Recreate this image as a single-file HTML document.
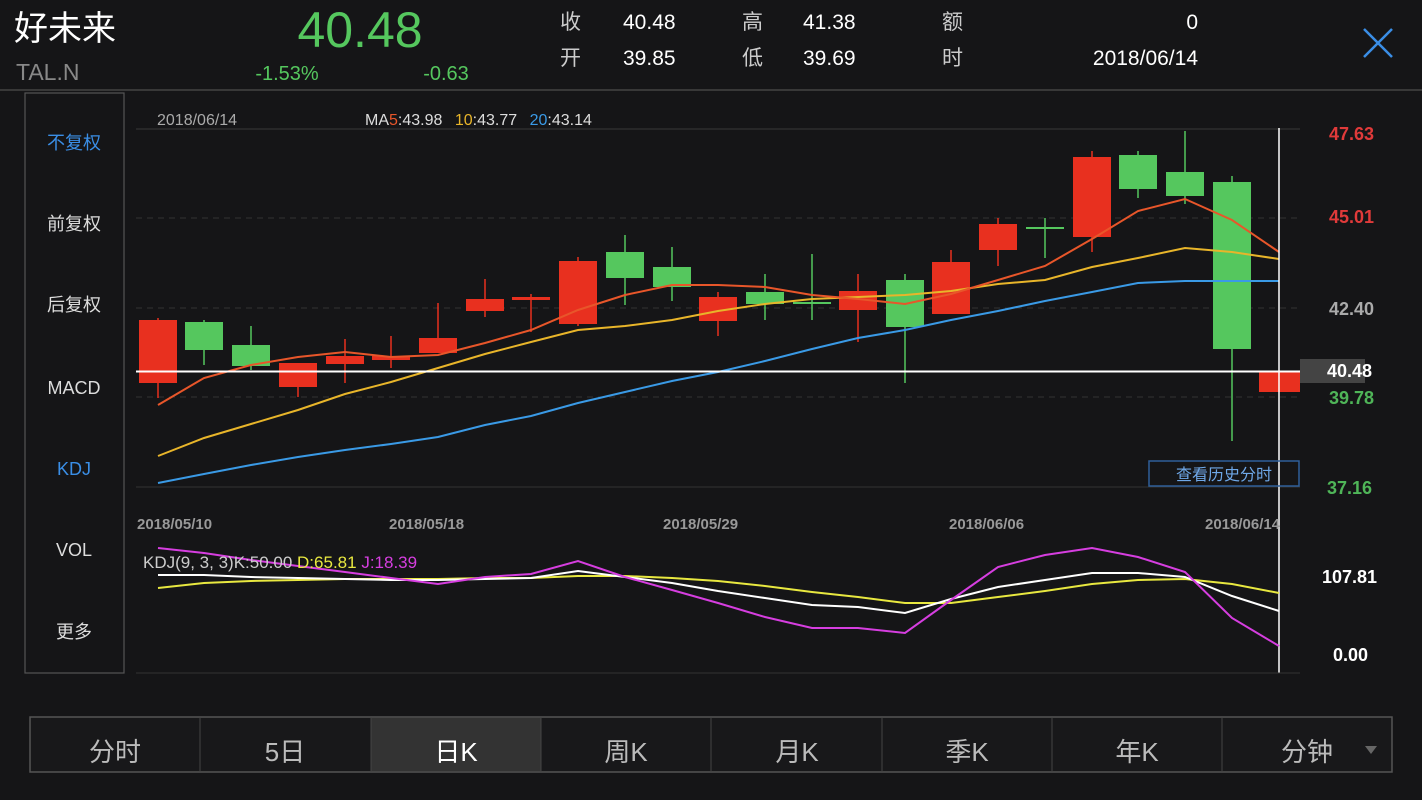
<!DOCTYPE html>
<html><head><meta charset="utf-8"><style>
body{margin:0;background:#151517;width:1422px;height:800px;overflow:hidden;font-family:"Liberation Sans","Noto Sans CJK SC",sans-serif;}
</style></head><body>
<svg width="1422" height="800" xmlns="http://www.w3.org/2000/svg" style="position:absolute;left:0;top:0;font-family:'Liberation Sans','Noto Sans CJK SC',sans-serif">
<rect width="1422" height="800" fill="#151517"/>
<!-- header -->
<text x="14" y="40" font-size="34" fill="#fff">好未来</text>
<text x="16" y="80" font-size="23" fill="#888">TAL.N</text>
<text x="360" y="47" font-size="50" fill="#55c75e" text-anchor="middle">40.48</text>
<text x="287" y="80" font-size="20" fill="#55c75e" text-anchor="middle">-1.53%</text>
<text x="446" y="80" font-size="20" fill="#55c75e" text-anchor="middle">-0.63</text>
<g font-size="21" fill="#ccc">
<text x="560" y="29">收</text><text x="560" y="65">开</text>
<text x="623" y="29" fill="#fff">40.48</text><text x="623" y="65" fill="#fff">39.85</text>
<text x="742" y="29">高</text><text x="742" y="65">低</text>
<text x="803" y="29" fill="#fff">41.38</text><text x="803" y="65" fill="#fff">39.69</text>
<text x="942" y="29">额</text><text x="942" y="65">时</text>
<text x="1198" y="29" fill="#fff" text-anchor="end">0</text><text x="1198" y="65" fill="#fff" text-anchor="end">2018/06/14</text>
</g>
<path d="M1364 29 L1392 57 M1392 29 L1364 57" stroke="#3a8ee6" stroke-width="2.5"/>
<line x1="0" y1="90" x2="1422" y2="90" stroke="#444" stroke-width="1.5"/>
<!-- left panel -->
<rect x="25" y="93" width="99" height="580" fill="none" stroke="#555" stroke-width="1.2"/>
<g font-size="18" fill="#ddd" text-anchor="middle">
<text x="74" y="149" fill="#3a8ee6">不复权</text>
<text x="74" y="230">前复权</text>
<text x="74" y="311">后复权</text>
<text x="74" y="394">MACD</text>
<text x="74" y="475" fill="#3a8ee6">KDJ</text>
<text x="74" y="556">VOL</text>
<text x="74" y="638">更多</text>
</g>
<!-- chart labels -->
<text x="157" y="125" font-size="16" fill="#aaa">2018/06/14</text>
<text x="365" y="125" font-size="16" fill="#ddd">MA<tspan fill="#e8562a">5</tspan>:43.98 <tspan dx="8" fill="#e8b52a">10</tspan>:43.77 <tspan dx="8" fill="#3a9ae6">20</tspan>:43.14</text>
<line x1="136" y1="129" x2="1300" y2="129" stroke="#333" stroke-width="1.2"/>
<g stroke="#333" stroke-width="1" stroke-dasharray="6,5">
<line x1="136" y1="218" x2="1300" y2="218"/><line x1="136" y1="308" x2="1300" y2="308"/><line x1="136" y1="397" x2="1300" y2="397"/>
</g>
<line x1="136" y1="487" x2="1300" y2="487" stroke="#333" stroke-width="1"/>
<g font-size="18" font-weight="bold" text-anchor="end">
<text x="1374" y="140" fill="#e03a3a">47.63</text>
<text x="1374" y="223" fill="#e03a3a">45.01</text>
<text x="1374" y="315" fill="#aaa">42.40</text>
<text x="1374" y="404" fill="#4fb558">39.78</text>
<text x="1372" y="494" fill="#4fb558">37.16</text>
</g>
<rect x="1300" y="359" width="65" height="24" fill="#444"/>
<text x="1372" y="377" font-size="18" font-weight="bold" fill="#fff" text-anchor="end">40.48</text>
<!-- candles -->
<g id="c"></g>
<g stroke-width="2" fill="none">
<polyline stroke="#3a9ae6" points="158,483 204,474 251,465 298,457 345,450 391,444 438,437 485,425 531,416 578,403 625,392 672,381 718,372 765,361 812,349 858,338 905,330 951,320 998,311 1045,301 1092,292 1138,283 1185,281 1232,281 1279,281"/>
<polyline stroke="#e8b52a" points="158,456 204,438 251,424 298,410 345,394 391,382 438,368 485,354 531,342 578,330 625,326 672,320 718,311 765,304 812,299 858,297 905,295 951,291 998,284 1045,280 1092,267 1138,258 1185,248 1232,252 1279,259"/>
<polyline stroke="#e8562a" points="158,405 204,378 251,365 298,357 345,352 391,357 438,355 485,343 531,330 578,310 625,295 672,285 718,285 765,287 812,295 858,299 905,304 951,294 998,280 1045,266 1092,239 1138,211 1185,199 1232,220 1279,252"/>
</g>
<line x1="136" y1="371.5" x2="1300" y2="371.5" stroke="#fff" stroke-width="2"/>
<line x1="1279" y1="128" x2="1279" y2="673" stroke="#fff" stroke-width="1.5"/>
<rect x="1149" y="461" width="150" height="25" fill="none" stroke="#2f5f9a" stroke-width="1.5"/>
<text x="1224" y="480" font-size="16" fill="#6fa8e8" text-anchor="middle">查看历史分时</text>
<!-- dates -->
<g font-size="15" fill="#999" font-weight="bold">
<text x="137" y="529">2018/05/10</text>
<text x="389" y="529">2018/05/18</text>
<text x="663" y="529">2018/05/29</text>
<text x="949" y="529">2018/06/06</text>
<text x="1205" y="529">2018/06/14</text>
</g>
<!-- KDJ -->
<g stroke-width="2" fill="none">
<polyline stroke="#e8e840" points="158,588 204,583 251,581 298,580 345,579 391,579 438,579 485,578 531,578 578,576 625,576 672,578 718,581 765,586 812,592 858,597 905,603 951,603 998,597 1045,591 1092,584 1138,580 1185,579 1232,584 1279,593"/>
<polyline stroke="#fff" points="158,575 204,575 251,577 298,578 345,579 391,580 438,580 485,579 531,578 578,571 625,577 672,583 718,591 765,598 812,605 858,607 905,613 951,599 998,587 1045,580 1092,573 1138,573 1185,577 1232,596 1279,611"/>
<polyline stroke="#d63ee0" points="158,548 204,553 251,560 298,566 345,572 391,578 438,584 485,577 531,574 578,561 625,577 672,590 718,603 765,617 812,628 858,628 905,633 951,600 998,567 1045,555 1092,548 1138,557 1185,572 1232,618 1279,646"/>
</g>
<text x="143" y="568" font-size="17" fill="#ccc">KDJ(9, 3, 3)K:50.00 <tspan fill="#e8e840">D:65.81</tspan> <tspan fill="#d63ee0">J:18.39</tspan></text>
<g font-size="18" font-weight="bold" fill="#fff" text-anchor="end">
<text x="1377" y="583">107.81</text><text x="1368" y="661">0.00</text>
</g>
<line x1="136" y1="673" x2="1300" y2="673" stroke="#333" stroke-width="1"/>
<!-- tabs -->
<rect x="30" y="717" width="1362" height="55" fill="#18181a" stroke="#555" stroke-width="1.5"/>
<rect x="371" y="718" width="170" height="53" fill="#333"/>
<g stroke="#444" stroke-width="1">
<line x1="200" y1="717" x2="200" y2="772"/><line x1="371" y1="717" x2="371" y2="772"/><line x1="541" y1="717" x2="541" y2="772"/><line x1="711" y1="717" x2="711" y2="772"/><line x1="882" y1="717" x2="882" y2="772"/><line x1="1052" y1="717" x2="1052" y2="772"/><line x1="1222" y1="717" x2="1222" y2="772"/>
</g>
<g font-size="26" fill="#bbb" text-anchor="middle">
<text x="115" y="761">分时</text><text x="285" y="761">5日</text><text x="456" y="761" fill="#fff">日K</text><text x="626" y="761">周K</text><text x="797" y="761">月K</text><text x="967" y="761">季K</text><text x="1137" y="761">年K</text><text x="1307" y="761">分钟</text>
</g>
<path d="M1365 746 L1377 746 L1371 754 Z" fill="#666"/>
</svg>
<script>
var d=[[158,'r',320,383,318,398],[204,'g',322,350,320,365],[251,'g',345,366,326,370],[298,'r',363,387,363,397],[345,'r',356,364,339,383],[391,'r',356,360,336,368],[438,'r',338,353,303,353],[485,'r',299,311,279,317],[531,'r',297,300,294,332],[578,'r',261,324,257,326],[625,'g',252,278,235,305],[672,'g',267,287,247,301],[718,'r',297,321,292,336],[765,'g',292,304,274,320],[812,'g',302,304,254,320],[858,'r',291,310,274,342],[905,'g',280,327,274,383],[951,'r',262,314,250,314],[998,'r',224,250,218,266],[1045,'g',227,229,218,258],[1092,'r',157,237,151,252],[1138,'g',155,189,151,198],[1185,'g',172,196,131,204],[1232,'g',182,349,176,441],[1279,'r',371,392,371,392]];
var s='';d.forEach(function(c){var col=c[1]=='r'?'#e8301f':'#55c75e';
s+='<line x1="'+c[0]+'" y1="'+c[4]+'" x2="'+c[0]+'" y2="'+c[5]+'" stroke="'+col+'" stroke-width="1.5"/>';
var x=c[0]-19,w=38;if(c[0]==1279){w=21;x=1259;s+='<rect x="1259" y="371" width="41" height="21" fill="'+col+'"/>';return;}
s+='<rect x="'+x+'" y="'+c[2]+'" width="'+w+'" height="'+Math.max(2,c[3]-c[2])+'" fill="'+col+'"/>';});
document.getElementById('c').innerHTML=s;
</script>
</body></html>
